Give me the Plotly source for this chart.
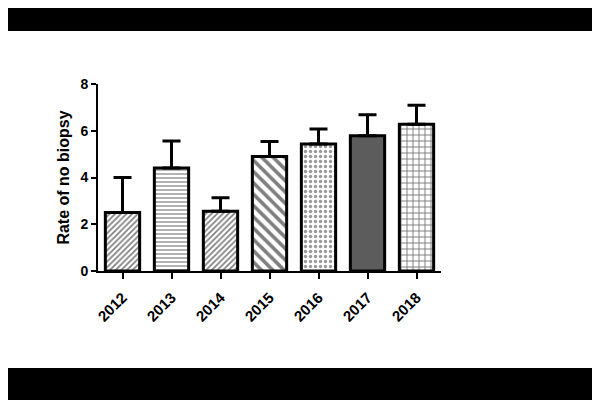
import plotly.graph_objects as go

years = ["2012", "2013", "2014", "2015", "2016", "2017", "2018"]
rates = [2.50, 4.41, 2.56, 4.90, 5.43, 5.79, 6.28]
errors = [1.50, 1.15, 0.57, 0.64, 0.64, 0.89, 0.81]
y_ticks = [0, 2, 4, 6, 8]

shapes_ = ["/", "-", "/", "\\", ".", "", "+"]
sizes_ = [4, 4, 4, 8, 5, 8, 6]
solid_ = [0.42, 0.3, 0.42, 0.45, 0.35, 0.3, 0.3]
fgcols = ["black", "black", "black", "black", "#333333", "black", "black"]
fills = ["white"] * 5 + ["#5c5c5c", "white"]

fig = go.Figure()
for i, yr in enumerate(years):
    pat = dict(shape=shapes_[i], size=sizes_[i], solidity=solid_[i],
               fgcolor=fgcols[i], fillmode="overlay")
    fig.add_trace(go.Bar(
        x=[yr], y=[rates[i]], width=0.7,
        marker=dict(color=fills[i], line=dict(color="black", width=3),
                    pattern=pat),
        error_y=dict(type="data", array=[errors[i]], arrayminus=[0],
                     symmetric=False, color="black", thickness=3, width=9),
    ))

# page is offset 8px by body margin; plot area in screen px: x 98-441, y 84-271
top_px, bot_px = 76, 263
ph = bot_px - top_px
fig.update_layout(
    width=600, height=400, barmode="overlay",
    margin=dict(l=90, r=167, t=top_px, b=400 - bot_px),
    paper_bgcolor="white", plot_bgcolor="white",
    showlegend=False,
    font=dict(family="Arial, Liberation Sans, sans-serif", color="black"),
    shapes=[
        dict(type="rect", xref="paper", yref="paper", x0=-1, x1=2,
             y0=(bot_px - 23) / ph, y1=3, fillcolor="black",
             line=dict(width=0), layer="above"),
        dict(type="rect", xref="paper", yref="paper", x0=-1, x1=2,
             y0=-3, y1=-(360 - bot_px) / ph, fillcolor="black",
             line=dict(width=0), layer="above"),
    ],
)
fig.update_xaxes(
    range=[-0.5, 6.5], showline=True, linecolor="black", linewidth=2,
    ticks="outside", ticklen=6, tickwidth=2, tickcolor="black",
    tickangle=-45, tickfont=dict(size=15, weight="bold"), ticklabelstandoff=4,
    showgrid=False, zeroline=False,
)
fig.update_yaxes(
    range=[0, 8], tickvals=y_ticks, showline=True, linecolor="black", linewidth=2,
    ticks="outside", ticklen=5, tickwidth=2, tickcolor="black",
    tickfont=dict(size=14, weight="bold"),
    title=dict(text="Rate of no biopsy", font=dict(size=16, weight="bold"), standoff=7),
    showgrid=False, zeroline=False,
)

fig.write_html("out.html")
